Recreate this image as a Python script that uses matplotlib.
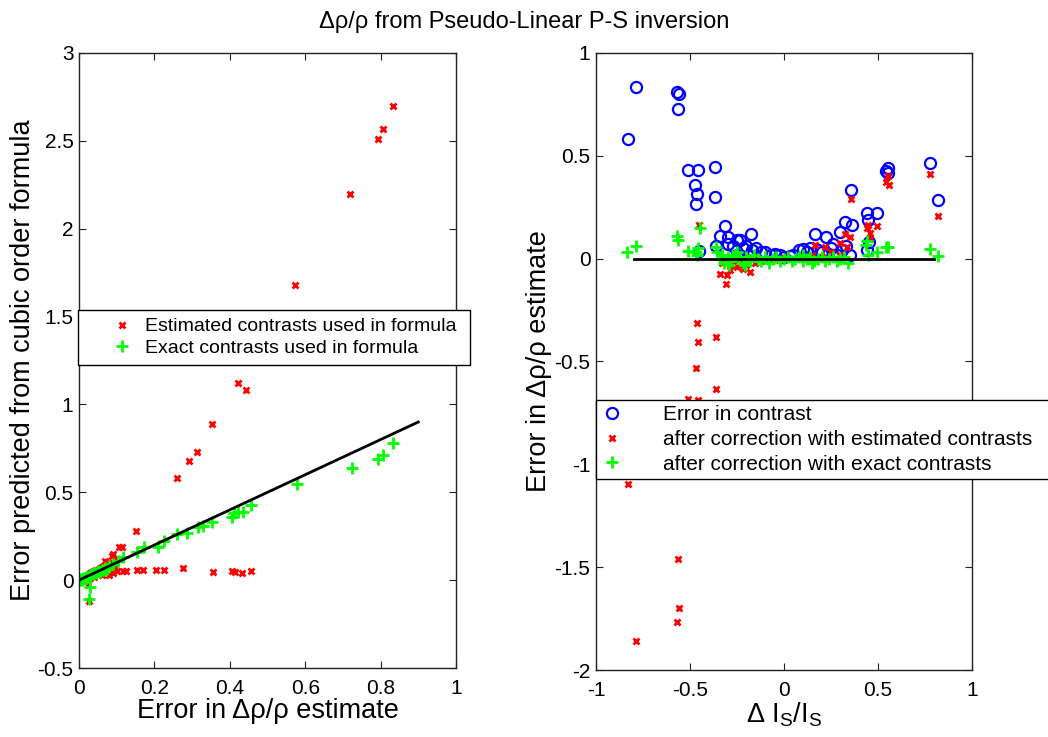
import numpy as np
import matplotlib.pyplot as plt

plt.rcParams['font.family'] = ['Liberation Sans', 'DejaVu Sans']
plt.rcParams['mathtext.fontset'] = 'custom'
plt.rcParams['mathtext.rm'] = 'Liberation Sans'
plt.rcParams['mathtext.it'] = 'Liberation Sans'

# ---- left panel data: (error in estimate, predicted error) ----
est_x = [0.833, 0.806, 0.793, 0.719, 0.573, 0.422, 0.443, 0.353, 0.313, 0.292, 0.26,
         0.151, 0.106, 0.114, 0.09, 0.087, 0.069,
         0.10, 0.117, 0.124, 0.153, 0.17, 0.205, 0.226, 0.276, 0.355, 0.405, 0.414, 0.432, 0.456,
         0.005, 0.01, 0.015, 0.02, 0.025, 0.03, 0.035, 0.04, 0.045, 0.05, 0.055, 0.06, 0.065,
         0.07, 0.075, 0.08, 0.085, 0.06, 0.07, 0.08, 0.09, 0.05, 0.04, 0.03, 0.1, 0.095, 0.02,
         0.01, 0.025, 0.027, 0.06]
est_y = [2.70, 2.57, 2.51, 2.20, 1.68, 1.12, 1.08, 0.89, 0.73, 0.68, 0.58,
         0.28, 0.19, 0.19, 0.15, 0.14, 0.11,
         0.05, 0.05, 0.05, 0.06, 0.06, 0.06, 0.06, 0.07, 0.045, 0.05, 0.045, 0.04, 0.05,
         0.005, 0.012, 0.02, 0.025, 0.03, 0.04, 0.045, 0.05, 0.055, 0.06, 0.07, 0.075, 0.08,
         0.085, 0.09, 0.1, 0.095, 0.04, 0.05, 0.03, 0.04, 0.03, 0.02, 0.01, 0.12, 0.07, 0.01,
         0.0, -0.03, -0.12, 0.03]

exact_x = [0.833, 0.806, 0.793, 0.724, 0.578, 0.456, 0.435, 0.422, 0.406, 0.41, 0.353,
           0.329, 0.316, 0.286, 0.26, 0.226, 0.21, 0.172, 0.154, 0.117, 0.103, 0.09, 0.08,
           0.07, 0.06, 0.05, 0.045, 0.04, 0.035, 0.03, 0.025, 0.02, 0.015, 0.01, 0.005,
           0.002, 0.008, 0.012, 0.018, 0.03, 0.027, 0.055, 0.065, 0.075]
exact_y = [0.78, 0.71, 0.69, 0.64, 0.55, 0.43, 0.39, 0.39, 0.36, 0.38, 0.33,
           0.31, 0.30, 0.27, 0.26, 0.22, 0.19, 0.19, 0.16, 0.13, 0.11, 0.09, 0.08,
           0.07, 0.06, 0.05, 0.04, 0.04, 0.035, 0.03, 0.02, 0.02, 0.015, 0.01, 0.005,
           0.0, 0.002, 0.005, 0.01, -0.04, -0.11, 0.045, 0.06, 0.065]

ref_x = [0, 0.9]
ref_y = [0, 0.9]

# ---- right panel data: (delta Is/Is, error) ----
contrast_x = [-0.789, -0.831, -0.571, -0.557, -0.564, -0.509, -0.456, -0.365, -0.473, -0.461,
              -0.468, -0.365, -0.314, -0.34, -0.296, -0.252, -0.234, -0.177,
              -0.36, -0.3, -0.27, -0.22, -0.2, -0.17, -0.15, -0.12, -0.1, -0.07, -0.05, -0.02,
              0.0, 0.03, 0.05, 0.08, 0.1, 0.12, 0.14, 0.18, 0.2, 0.25, 0.28, 0.31, -0.45,
              -0.25, -0.18,
              0.355, 0.552, 0.552, 0.545, 0.777, 0.82, 0.44, 0.496, 0.449, 0.324, 0.36, 0.298,
              0.167, 0.223, 0.44, 0.26, 0.33, 0.35, 0.45]
contrast_y = [0.836, 0.58, 0.81, 0.80, 0.728, 0.43, 0.43, 0.447, 0.358, 0.315,
              0.266, 0.30, 0.16, 0.11, 0.107, 0.09, 0.09, 0.12,
              0.06, 0.07, 0.06, 0.05, 0.06, 0.04, 0.05, 0.03, 0.03, 0.02, 0.025, 0.02,
              0.01, 0.015, 0.02, 0.04, 0.045, 0.03, 0.05, 0.04, 0.03, 0.05, 0.02, 0.04, 0.035,
              0.02, 0.015,
              0.334, 0.44, 0.415, 0.425, 0.465, 0.285, 0.22, 0.224, 0.188, 0.178, 0.165, 0.128,
              0.12, 0.104, 0.042, 0.07, 0.06, 0.02, 0.08]

corr_est_x = [-0.831, -0.562, -0.556, -0.567, -0.789, -0.464, -0.459, -0.363, -0.470, -0.363,
              -0.51, -0.457,
              -0.34, -0.305, -0.309, -0.287, -0.252, -0.234, -0.181, -0.154, -0.33, -0.27,
              -0.22, -0.2, -0.1, -0.05,
              0.777, 0.82, 0.552, 0.545, 0.558, 0.355, 0.449, 0.44, 0.457, 0.457, 0.496,
              0.324, 0.351, 0.298, 0.333, 0.218, 0.165, -0.45, 0.25, 0.3, 0.1, 0.0, 0.05,
              0.2, 0.15]
corr_est_y = [-1.097, -1.461, -1.70, -1.765, -1.857, -0.314, -0.406, -0.379, -0.533, -0.635,
              -0.684, -0.687,
              -0.076, -0.08, -0.125, -0.055, -0.04, -0.02, -0.066, -0.02, -0.02, -0.03,
              -0.05, -0.03, -0.01, -0.005,
              0.41, 0.208, 0.40, 0.375, 0.358, 0.289, 0.164, 0.148, 0.123, 0.094, 0.159,
              0.12, 0.107, 0.075, 0.058, 0.058, 0.065, 0.164, 0.03, 0.02, 0.01, 0.005, 0.0,
              0.01, 0.02]

corr_exact_x = [-0.833, -0.789, -0.567, -0.562, -0.447, -0.51, -0.468, -0.457, -0.465, -0.363,
                -0.358, 0.777, 0.82, 0.552, 0.543, 0.44, 0.436, 0.449, 0.493,
                -0.34, -0.32, -0.3, -0.28, -0.26, -0.24, -0.22, -0.2, -0.18, -0.16, -0.14,
                -0.12, -0.1, -0.08, -0.06, -0.04, -0.02, 0.0, 0.02, 0.04, 0.06, 0.08, 0.1,
                0.12, 0.14, 0.16, 0.18, 0.2, 0.22, 0.24, 0.26, 0.28, 0.3, 0.32, 0.34,
                -0.33, -0.29, -0.25, -0.21, 0.1, 0.15]
corr_exact_y = [0.03, 0.063, 0.11, 0.09, 0.148, 0.037, 0.034, 0.05, 0.018, 0.058,
                0.03, 0.046, 0.015, 0.058, 0.055, 0.086, 0.067, 0.018, 0.034,
                0.0, -0.02, 0.01, -0.01, 0.02, 0.0, -0.02, 0.01, -0.01, 0.02, 0.0,
                -0.01, 0.01, -0.02, 0.0, 0.01, -0.01, 0.0, 0.01, -0.01, 0.0, 0.01, -0.01,
                0.0, 0.01, -0.01, 0.0, 0.01, -0.01, 0.0, 0.01, -0.01, 0.0, 0.01, -0.02,
                0.02, -0.03, 0.03, -0.03, 0.02, -0.02]

zero_x = [-0.8, 0.8]
zero_y = [0, 0]

fig = plt.figure(figsize=(10.48, 7.37), dpi=100)
ax1 = fig.add_axes([0.0754, 0.0936, 0.3597, 0.8345])
ax2 = fig.add_axes([0.5687, 0.0909, 0.3588, 0.8372])

red_kw = dict(linestyle='none', marker='x', color='red', markersize=4, mew=2)
green_kw = dict(linestyle='none', marker='+', color='#00ff00', markersize=9, mew=2)
blue_kw = dict(linestyle='none', marker='o', mfc='none', mec='blue', markersize=8, mew=1.6)

ax1.plot(est_x, est_y, label='Estimated contrasts used in formula', **red_kw)
ax1.plot(exact_x, exact_y, label='Exact contrasts used in formula', **green_kw)
ax1.plot(ref_x, ref_y, color='black', linewidth=2)
ax1.set_xlim(0, 1)
ax1.set_ylim(-0.5, 3)
ax1.set_xticks([0, 0.2, 0.4, 0.6, 0.8, 1])
ax1.set_xticklabels(['0', '0.2', '0.4', '0.6', '0.8', '1'])
ax1.set_yticks([-0.5, 0, 0.5, 1, 1.5, 2, 2.5, 3])
ax1.set_yticklabels(['-0.5', '0', '0.5', '1', '1.5', '2', '2.5', '3'])
ax1.set_xlabel('Error in Δρ/ρ estimate', fontsize=19.5, labelpad=0)
ax1.set_ylabel('Error predicted from cubic order formula', fontsize=19.5, labelpad=1)

ax2.plot(contrast_x, contrast_y, label='Error in contrast', **blue_kw)
ax2.plot(corr_est_x, corr_est_y, label='after correction with estimated contrasts', **red_kw)
ax2.plot(corr_exact_x, corr_exact_y, label='after correction with exact contrasts', **green_kw)
ax2.plot(zero_x, zero_y, color='black', linewidth=2)
ax2.set_xlim(-1, 1)
ax2.set_ylim(-2, 1)
ax2.set_xticks([-1, -0.5, 0, 0.5, 1])
ax2.set_xticklabels(['-1', '-0.5', '0', '0.5', '1'])
ax2.set_yticks([-2, -1.5, -1, -0.5, 0, 0.5, 1])
ax2.set_yticklabels(['-2', '-1.5', '-1', '-0.5', '0', '0.5', '1'])
ax2.set_xlabel(r'Δ I$_S$/I$_S$', fontsize=19.5, labelpad=0)
ax2.set_ylabel('Error in Δρ/ρ estimate', fontsize=19.5, labelpad=2)

for ax in (ax1, ax2):
    ax.tick_params(direction='in', top=True, right=True, labelsize=15, length=5,
                   color='#222222')
    ax.tick_params(axis='x', pad=8)
    ax.tick_params(axis='y', pad=4)
    for s in ax.spines.values():
        s.set_color('#222222')
        s.set_linewidth(1)

leg1 = ax1.legend(loc='upper left', bbox_to_anchor=(0.0744, 0.502, 0.374, 0.077),
                  bbox_transform=fig.transFigure, mode='expand', borderaxespad=0,
                  fontsize=14, frameon=True, fancybox=False, framealpha=1,
                  edgecolor='black', handlelength=3.74, handletextpad=-0.69,
                  labelspacing=0.21, borderpad=0.39)
leg1.get_frame().set_linewidth(1)

leg2 = ax2.legend(loc='upper left', bbox_to_anchor=(0.5687, 0.346, 0.44, 0.111),
                  bbox_transform=fig.transFigure, mode='expand', borderaxespad=0,
                  fontsize=15, frameon=True, fancybox=False, framealpha=1,
                  edgecolor='black', handlelength=1.07, handletextpad=1.92,
                  labelspacing=0.28, borderpad=0.235)
leg2.get_frame().set_linewidth(1)

fig.suptitle('Δρ/ρ from Pseudo-Linear P-S inversion', fontsize=17, y=0.985)

fig.savefig('out.png', dpi=100)
